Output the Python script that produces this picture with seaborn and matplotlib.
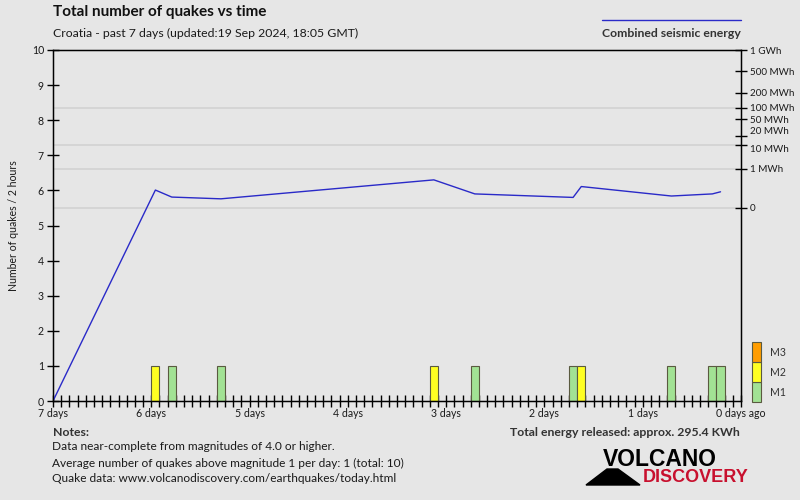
import matplotlib
matplotlib.use("Agg")
import matplotlib.pyplot as plt
from matplotlib.patches import Rectangle, Polygon
from matplotlib.lines import Line2D
import seaborn as sns
import pandas as pd
import numpy as np

# 2-hour bins over the last 7 days (0 = 7 days ago, 83 = latest)
n_bins = 84
quake_bins = [12, 14, 20, 46, 51, 63, 64, 75, 80, 81]
quake_mags = ["M2", "M1", "M1", "M2", "M1", "M1", "M2", "M1", "M1", "M1"]
quake_counts = [1, 1, 1, 1, 1, 1, 1, 1, 1, 1]

# combined seismic energy line (in right-axis units), start at 7 days ago
energy_x = [-0.5, 12, 14, 20, 46, 51, 63, 64, 75, 80, 81]
energy_y = [0.0, 6.01, 5.81, 5.76, 6.30, 5.90, 5.80, 6.11, 5.84, 5.90, 5.96]

# right energy axis ticks
energy_tick_pos = [10.0, 9.40, 8.78, 8.35, 8.02, 7.56, 7.30, 6.62, 5.50]
energy_tick_lab = ["1 GWh", "500 MWh", "200 MWh", "100 MWh", "50 MWh",
                   "20 MWh", "10 MWh", "1 MWh", "0"]
grid_pos = [8.35, 7.30, 6.62, 5.50]

day_labels = ["7 days", "6 days", "5 days", "4 days", "3 days",
              "2 days", "1 days", "0 days ago"]

mag_order = ["M1", "M2", "M3"]
mag_colors = {"M1": "#a2e294", "M2": "#ffff22", "M3": "#ff9d00"}

bg = "#e6e6e6"
sns.set_style("white", {"axes.facecolor": bg, "figure.facecolor": bg,
                        "axes.edgecolor": "black"})
plt.rcParams["font.family"] = ["Lato", "DejaVu Sans"]

txt = "#1a1a1a"
fs_tick = 7.6

df = pd.DataFrame({"bin": quake_bins, "mag": quake_mags, "count": quake_counts})

fig = plt.figure(figsize=(8, 5), dpi=100)
ax = fig.add_axes([53 / 800, 1 - 401 / 500, 688 / 800, 351 / 500])

for g in grid_pos:
    ax.axhline(g, color="#d2d2d2", lw=1.2, zorder=0)

sns.barplot(data=df, x="bin", y="count", hue="mag", order=list(range(n_bins)),
            hue_order=mag_order, palette=mag_colors, dodge=False, width=1,
            saturation=1, errorbar=None, edgecolor="#5a5a40", linewidth=0.8,
            legend=False, ax=ax)

ax2 = ax.twinx()
sns.lineplot(x=energy_x, y=energy_y, ax=ax2, color="#2a2ac8", lw=1, sort=False)
ax2.set_ylim(0, 10)
ax2.set_yticks(energy_tick_pos)
ax2.set_yticklabels(energy_tick_lab, fontsize=7.1, color=txt)
ax2.tick_params(axis="y", direction="inout", length=9, width=1, color="black", pad=2)
ax2.set_ylabel("")
# the 20/10 MWh ticks sit very close, nudge their labels apart a little
lbls = ax2.get_yticklabels()
lbls[5].set_va("bottom")
lbls[6].set_va("top")

# x axis set after the twin so the shared ticker is not reset
ax.set_xlim(-0.5, n_bins - 0.5)
ax.set_ylim(0, 10)
ax.set_xticks(np.arange(-0.5, n_bins, 12))
ax.set_xticklabels(day_labels, fontsize=fs_tick, color=txt)
ax.set_xticks(np.arange(-0.5, n_bins, 1), minor=True)
ax.tick_params(axis="x", which="both", direction="inout", length=8, width=1,
               color="black", pad=1, bottom=True)
ax.set_yticks(range(0, 11))
ax.set_yticklabels([str(i) for i in range(11)], fontsize=fs_tick, color=txt)
ax.tick_params(axis="y", direction="inout", length=9, width=1, color="black", pad=2)
ax.set_xlabel("")
ax.set_ylabel("Number of quakes / 2 hours", fontsize=fs_tick, color=txt, labelpad=9)
for s in ax.spines.values():
    s.set_linewidth(1)
    s.set_color("black")

# titles
fig.text(53 / 800, 1 - 12 / 500, "Total number of quakes vs time", fontsize=11,
         fontweight="bold", color="#111111", va="center", ha="left")
fig.text(53 / 800, 1 - 33 / 500, "Croatia - past 7 days (updated:19 Sep 2024, 18:05 GMT)",
         fontsize=8.8, color=txt, va="center", ha="left")

# energy legend
fig.add_artist(Line2D([602 / 800, 741 / 800], [1 - 20 / 500, 1 - 20 / 500],
                      color="#2a2ac8", lw=1))
fig.text(741 / 800, 1 - 33 / 500, "Combined seismic energy", fontsize=8.8,
         fontweight="bold", color="#333333", va="center", ha="right")

# magnitude legend
for i, m in enumerate(mag_order):
    y0 = 1 - (402 - 20 * i) / 500
    fig.add_artist(Rectangle((752 / 800, y0), 9 / 800, 20 / 500,
                             transform=fig.transFigure, facecolor=mag_colors[m],
                             edgecolor="#5a5a40", lw=0.8))
    fig.text(770 / 800, y0 + 10 / 500, m, fontsize=fs_tick, color="#333333",
             va="center", ha="left")

# notes
fig.text(53 / 800, 1 - 432 / 500, "Notes:", fontsize=8.8, fontweight="bold",
         color="#333333", va="center")
notes = ["Data near-complete from magnitudes of 4.0 or higher.",
         "Average number of quakes above magnitude 1 per day: 1 (total: 10)",
         "Quake data: www.volcanodiscovery.com/earthquakes/today.html"]
for i, t in enumerate(notes):
    fig.text(52 / 800, 1 - (447 + 16 * i) / 500, t, fontsize=8.6,
             color=txt, va="center")
fig.text(740 / 800, 1 - 432 / 500, "Total energy released: approx. 295.4 KWh",
         fontsize=8.8, fontweight="bold", color="#333333", va="center", ha="right")

# logo
fig.add_artist(Polygon([[586 / 800, 1 - 485 / 500], [640 / 800, 1 - 485 / 500],
                        [618 / 800, 1 - 469 / 500], [607 / 800, 1 - 469 / 500]],
                       closed=True, transform=fig.transFigure, color="black"))
fig.text(603 / 800, 1 - 459 / 500, "VOLCANO", fontsize=16.5, fontweight="bold",
         family="Liberation Sans", color="black", va="center", ha="left")
fig.text(748 / 800, 1 - 478 / 500, "DISCOVERY", fontsize=13, fontweight="bold",
         family="Liberation Sans", color="#c8102e", va="center", ha="right")

fig.savefig("out.png", dpi=100, facecolor=bg)
